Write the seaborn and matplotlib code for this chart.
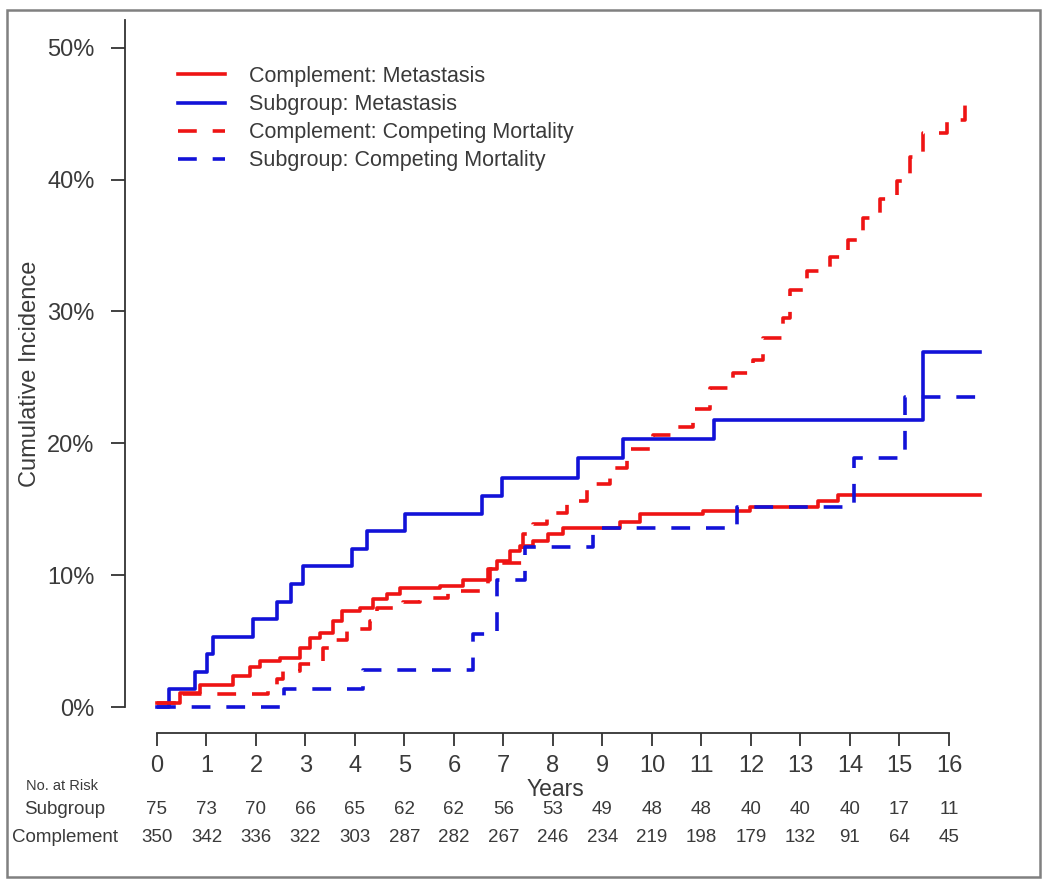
import numpy as np
import pandas as pd
import matplotlib
matplotlib.use("Agg")
import matplotlib.pyplot as plt
import matplotlib.transforms as mtransforms
from matplotlib.patches import Rectangle
import seaborn as sns

# step functions (years, cumulative incidence in %)
sub_met_t = [0, 0.24, 0.77, 1.01, 1.13, 1.94, 2.42, 2.71, 2.95, 3.94, 4.24, 5.01,
             6.57, 6.97, 8.51, 9.41, 11.25, 15.48, 16.63]
sub_met_v = [0, 1.33, 2.67, 4.0, 5.33, 6.67, 8.0, 9.33, 10.67, 12.0, 13.33, 14.67,
             16.0, 17.33, 18.9, 20.3, 21.8, 26.9, 26.9]

sub_cm_t = [0, 2.57, 4.16, 6.38, 6.87, 7.43, 8.8, 11.72, 14.08, 15.11, 16.63]
sub_cm_v = [0, 1.35, 2.8, 5.5, 9.6, 12.1, 13.6, 15.2, 18.9, 23.5, 23.5]

comp_met_t = [0, 0.46, 0.87, 1.54, 1.88, 2.08, 2.48, 2.89, 3.09, 3.29, 3.56, 3.74,
              4.1, 4.36, 4.65, 4.91, 5.72, 6.18, 6.73, 6.87, 7.13, 7.33, 7.6, 7.9,
              8.2, 9.35, 9.76, 11.03, 11.98, 13.35, 13.76, 16.63]
comp_met_v = [0.3, 1.1, 1.7, 2.35, 3.0, 3.5, 3.7, 4.5, 5.2, 5.6, 6.5, 7.3,
              7.5, 8.2, 8.6, 9.0, 9.2, 9.6, 10.5, 11.1, 11.8, 12.2, 12.6, 13.1,
              13.6, 14.0, 14.6, 14.9, 15.2, 15.6, 16.1, 16.1]

comp_cm_t = [0, 0.46, 2.24, 2.42, 2.55, 2.89, 3.35, 3.49, 3.84, 4.3, 4.44, 4.97,
             5.31, 5.88, 6.69, 6.89, 7.39, 7.6, 7.88, 8.28, 8.69, 9.15, 9.49, 10.02,
             10.51, 10.83, 11.17, 11.64, 12.04, 12.24, 12.65, 12.79, 13.13, 13.6,
             13.96, 14.26, 14.61, 14.95, 15.21, 15.47, 15.96, 16.32, 16.45]
comp_cm_v = [0.3, 0.95, 1.4, 2.1, 2.7, 3.3, 4.5, 5.1, 5.9, 6.5, 7.5, 8.0,
             8.3, 8.8, 10.5, 10.9, 13.1, 13.9, 14.7, 15.6, 16.9, 18.1, 19.6, 20.6,
             21.2, 22.6, 24.2, 25.3, 26.3, 28.0, 29.5, 31.6, 33.1, 34.1,
             35.4, 37.1, 38.5, 39.9, 41.7, 43.5, 44.5, 46.3, 46.3]

years = list(range(17))
risk_sub = [75, 73, 70, 66, 65, 62, 62, 56, 53, 49, 48, 48, 40, 40, 40, 17, 11]
risk_comp = [350, 342, 336, 322, 303, 287, 282, 267, 246, 234, 219, 198, 179, 132, 91, 64, 45]

RED = "#ee1414"
BLUE = "#1212d8"
TXT = "#3a3a3a"
dash = (0, (5.2, 4.4))

plt.rcParams["font.family"] = ["Liberation Sans", "DejaVu Sans"]

series = [
    ("Complement: Metastasis", comp_met_t, comp_met_v, RED, "-"),
    ("Subgroup: Metastasis", sub_met_t, sub_met_v, BLUE, "-"),
    ("Complement: Competing Mortality", comp_cm_t, comp_cm_v, RED, dash),
    ("Subgroup: Competing Mortality", sub_cm_t, sub_cm_v, BLUE, dash),
]

W, H = 1050, 889
fig = plt.figure(figsize=(W / 100, H / 100), dpi=100)
ax = fig.add_axes([125 / W, 1 - 733 / H, (998.5 - 125) / W, (733 - 20) / H])

for name, t, v, col, ls in series:
    df = pd.DataFrame({"t": t, "v": v})
    sns.lineplot(data=df, x="t", y="v", ax=ax, estimator=None, sort=False,
                 color=col, linestyle=ls, linewidth=2.6, drawstyle="steps-post",
                 dash_capstyle="butt", label=name)

ax.set_xlim(-0.646, 17.0)
ax.set_ylim(-1.97, 52.1)
ax.set_xlabel("")
ax.set_ylabel("")
for s in ["top", "right"]:
    ax.spines[s].set_visible(False)
ax.spines["bottom"].set_bounds(0, 16)
ax.spines["left"].set_bounds(0, 52.1)
for s in ["left", "bottom"]:
    ax.spines[s].set_color("#333333")
    ax.spines[s].set_linewidth(1.3)

ax.set_xticks(years)
ax.set_xticklabels([str(y) for y in years])
ax.set_yticks([0, 10, 20, 30, 40, 50])
ax.set_yticklabels(["0%", "10%", "20%", "30%", "40%", "50%"])
ax.tick_params(axis="x", length=9.5, width=1.3, color="#333333", pad=6,
               labelsize=17, labelcolor=TXT)
ax.tick_params(axis="y", length=10, width=1.3, color="#333333", pad=12,
               labelsize=17, labelcolor=TXT)

leg = ax.legend(loc="upper left", bbox_to_anchor=(178 / W, 1 - 66 / H),
                bbox_transform=fig.transFigure, frameon=False, fontsize=15.5,
                handlelength=2.2, handletextpad=1.1, labelspacing=0.33,
                borderpad=0, borderaxespad=0)
for txt in leg.get_texts():
    txt.set_color(TXT)

fig.text(30 / W, 1 - 374 / H, "Cumulative Incidence", rotation=90,
         ha="center", va="center", fontsize=17, color=TXT)
fig.text(555 / W, 1 - 790 / H, "Years", ha="center", va="center",
         fontsize=16.5, color=TXT)

# number at risk table
trans = mtransforms.blended_transform_factory(ax.transData, fig.transFigure)
fig.text(62 / W, 1 - 786 / H, "No. at Risk", ha="center", va="center",
         fontsize=10.5, color=TXT)
fig.text(65 / W, 1 - 809 / H, "Subgroup", ha="center", va="center",
         fontsize=13.5, color=TXT)
fig.text(65 / W, 1 - 837 / H, "Complement", ha="center", va="center",
         fontsize=13.5, color=TXT)
for y, a, b in zip(years, risk_sub, risk_comp):
    ax.text(y, 1 - 809 / H, str(a), transform=trans, ha="center", va="center",
            fontsize=13.5, color=TXT)
    ax.text(y, 1 - 837 / H, str(b), transform=trans, ha="center", va="center",
            fontsize=13.5, color=TXT)

fig.add_artist(Rectangle((7 / W, 1 - 877 / H), 1033 / W, 867 / H,
                         transform=fig.transFigure, fill=False,
                         edgecolor="#808080", linewidth=1.8))

fig.savefig("out.png", dpi=100)
